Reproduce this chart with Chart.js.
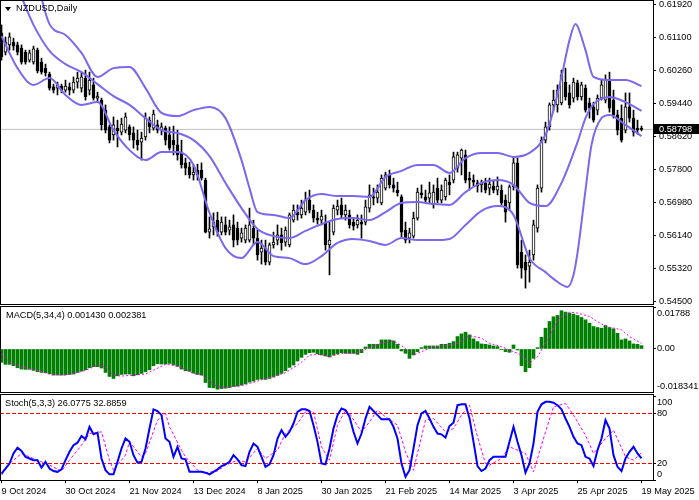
<!DOCTYPE html>
<html><head><meta charset="utf-8">
<script src="https://cdn.jsdelivr.net/npm/chart.js@4.4.1/dist/chart.umd.min.js"></script>
<style>
html,body{margin:0;padding:0;background:#fff;}
body{width:699px;height:500px;position:relative;overflow:hidden;font-family:'Liberation Sans',Arial,sans-serif;}
canvas{position:absolute;left:0;}
.frame{position:absolute;left:0;border:1px solid #000;pointer-events:none;}
.lbl{position:absolute;font-size:9.2px;color:#000;white-space:nowrap;line-height:11px;}
.tri{position:absolute;left:5px;top:7px;width:0;height:0;border-left:3px solid transparent;border-right:3px solid transparent;border-top:4px solid #000;}
</style></head><body>
<canvas id="cMain" width="699" height="304" style="top:0"></canvas>
<canvas id="cMacd" width="699" height="85" style="top:307px"></canvas>
<canvas id="cStoch" width="699" height="106" style="top:394px"></canvas>
<div class="frame" style="top:0;width:652px;height:303px"></div>
<div class="frame" style="top:306px;width:652px;height:85px"></div>
<div class="frame" style="top:394px;width:652px;height:85px"></div>
<div class="tri"></div>
<div class="lbl" style="left:16px;top:3px">NZDUSD,Daily</div>
<div class="lbl" style="left:6px;top:310px">MACD(5,34,4) 0.001430 0.002381</div>
<div class="lbl" style="left:5px;top:398px">Stoch(5,3,3) 26.0775 32.8859</div>
<script>
// ---------- data ----------
const dateLabels = ['9 Oct 2024','30 Oct 2024','21 Nov 2024','13 Dec 2024','8 Jan 2025','30 Jan 2025','21 Feb 2025','14 Mar 2025','3 Apr 2025','25 Apr 2025','19 May 2025'];
const barsPerLabel = 16;
const priceTicks = [0.61920,0.61100,0.60260,0.59440,0.58620,0.57800,0.56980,0.56140,0.55320,0.54500];
const lastPrice = 0.58798;
const macdTicks = [0.01788, 0, -0.018341];
const macdTickLabels = ['0.01788','0.00','-0.018341'];
const stochTicks = [100, 80, 20, 0];
const stochLevels = [20, 80];

const open = [.6121,.6073,.6091,.6098,.6091,.6083,.6073,.6053,.6048,.6078,
.6048,.6033,.6018,.5986,.5983,.5988,.5978,.5986,.5978,.5998,
.5983,.6008,.5978,.5991,.5958,.5953,.5928,.5886,.5866,.5883,
.5873,.5878,.5886,.5871,.5853,.5848,.5861,.5903,.5883,.5891,
.5878,.5883,.5866,.5853,.5841,.5821,.5796,.5786,.5766,.5778,
.5778,.5753,.5623,.5636,.5653,.5623,.5641,.5628,.5641,.5633,
.5608,.5603,.5603,.5633,.5608,.5573,.5583,.5548,.5591,.5603,
.5616,.5598,.5591,.5653,.5673,.5666,.5673,.5703,.5678,.5658,
.5653,.5648,.5591,.5623,.5678,.5691,.5666,.5666,.5648,.5641,
.5648,.5648,.5683,.5711,.5708,.5696,.5733,.5766,.5741,.5728,
.5711,.5628,.5608,.5613,.5658,.5721,.5711,.5708,.5691,.5733,
.5703,.5711,.5748,.5753,.5783,.5808,.5816,.5758,.5753,.5746,
.5741,.5746,.5733,.5738,.5728,.5728,.5703,.5696,.5736,.5796,
.5573,.5548,.5538,.5566,.5633,.5733,.5853,.5886,.5941,.5941,
.5946,.5998,.5971,.5958,.5996,.5961,.5983,.5946,.5936,.5928,
.5958,.5953,.6003,.5953,.5916,.5908,.5878,.5936,.5908,.5883,
.5881];
const high = [.6141,.6111,.6121,.6108,.6098,.6091,.6078,.6078,.6088,.6083,
.6058,.6043,.6023,.5993,.5998,.5993,.6003,.5996,.6011,.6023,
.6023,.6028,.6023,.6008,.5973,.5958,.5941,.5891,.5911,.5903,
.5908,.5921,.5891,.5886,.5878,.5873,.5921,.5911,.5928,.5903,
.5896,.5888,.5886,.5888,.5878,.5853,.5808,.5798,.5791,.5793,
.5796,.5758,.5661,.5671,.5673,.5661,.5661,.5653,.5666,.5648,
.5633,.5641,.5683,.5653,.5628,.5603,.5603,.5596,.5623,.5641,
.5633,.5636,.5671,.5691,.5691,.5703,.5723,.5728,.5691,.5673,
.5678,.5666,.5648,.5691,.5703,.5708,.5691,.5678,.5658,.5666,
.5666,.5703,.5741,.5733,.5741,.5766,.5773,.5778,.5758,.5748,
.5716,.5648,.5633,.5673,.5733,.5741,.5728,.5748,.5741,.5758,
.5741,.5758,.5766,.5823,.5823,.5831,.5828,.5773,.5766,.5753,
.5753,.5758,.5758,.5753,.5761,.5741,.5716,.5741,.5811,.5808,
.5603,.5566,.5578,.5653,.5741,.5861,.5898,.5946,.5978,.5991,
.6028,.6033,.5991,.6008,.6003,.5998,.5991,.5958,.5948,.5966,
.6003,.6016,.6023,.5978,.5928,.5941,.5971,.5971,.5928,.5903,
.5888];
const low = [.6053,.6066,.6078,.6078,.6066,.6043,.6043,.6048,.6043,.6021,
.6018,.6013,.5978,.5971,.5966,.5971,.5973,.5966,.5971,.5983,
.5973,.5953,.5966,.5953,.5948,.5878,.5871,.5846,.5853,.5836,
.5866,.5871,.5853,.5833,.5828,.5803,.5853,.5871,.5878,.5871,
.5866,.5841,.5828,.5816,.5803,.5783,.5766,.5758,.5753,.5753,
.5753,.5621,.5608,.5616,.5613,.5616,.5616,.5616,.5586,.5591,
.5598,.5596,.5598,.5591,.5553,.5543,.5541,.5541,.5583,.5591,
.5578,.5588,.5586,.5648,.5653,.5658,.5666,.5671,.5648,.5643,
.5641,.5578,.5516,.5616,.5666,.5658,.5653,.5633,.5628,.5633,
.5608,.5641,.5673,.5691,.5696,.5691,.5728,.5733,.5723,.5713,
.5608,.5596,.5596,.5608,.5653,.5708,.5696,.5696,.5683,.5696,
.5696,.5703,.5716,.5746,.5773,.5766,.5746,.5728,.5738,.5723,
.5723,.5721,.5716,.5721,.5716,.5691,.5648,.5678,.5728,.5533,
.5508,.5483,.5498,.5553,.5623,.5723,.5846,.5878,.5928,.5923,
.5941,.5953,.5933,.5948,.5953,.5953,.5923,.5908,.5898,.5916,
.5953,.5946,.5923,.5908,.5866,.5848,.5871,.5898,.5863,.5868,
.5876];
const close = [.6061,.6098,.6111,.6088,.6073,.6048,.6048,.6071,.6081,.6026,
.6023,.6021,.5983,.5978,.5991,.5978,.5988,.5978,.5998,.6008,
.6011,.5961,.6003,.5958,.5963,.5891,.5878,.5853,.5891,.5876,
.5893,.5911,.5866,.5853,.5841,.5858,.5908,.5886,.5918,.5878,
.5886,.5853,.5833,.5841,.5816,.5791,.5783,.5766,.5773,.5766,
.5758,.5623,.5631,.5648,.5623,.5648,.5623,.5636,.5603,.5603,
.5621,.5633,.5641,.5608,.5566,.5583,.5548,.5591,.5598,.5616,
.5596,.5628,.5666,.5678,.5666,.5683,.5703,.5678,.5658,.5653,
.5663,.5591,.5603,.5683,.5688,.5666,.5678,.5641,.5638,.5653,
.5643,.5686,.5716,.5708,.5723,.5758,.5766,.5741,.5733,.5721,
.5623,.5603,.5621,.5658,.5723,.5716,.5703,.5721,.5723,.5703,
.5728,.5753,.5741,.5811,.5816,.5828,.5753,.5753,.5748,.5738,
.5746,.5728,.5743,.5728,.5738,.5696,.5673,.5736,.5796,.5541,
.5533,.5528,.5548,.5641,.5733,.5853,.5886,.5941,.5953,.5978,
.6016,.5961,.5941,.5998,.5961,.5991,.5928,.5933,.5903,.5958,
.5991,.6003,.5933,.5916,.5878,.5853,.5936,.5908,.5873,.5878,
.58798];

// Bollinger bands: [bar, value]
const bbUpper = [[0,.6493],[4,.6433],[8,.6291],[12,.6143],[16,.6116],[20,.6071],[24,.6011],[28,.6033],[32,.6036],[36,.5983],
[40,.5921],[44,.5913],[48,.5928],[52,.5936],[56,.5908],[60,.5803],[62,.5733],[64,.5673],[68,.5666],[72,.5658],[76,.5703],
[80,.5718],[84,.5713],[88,.5713],[92,.5711],[96,.5761],[100,.5776],[104,.5791],[108,.5791],[112,.5771],[116,.5808],
[120,.5821],[124,.5821],[128,.5811],[132,.5821],[136,.5866],[138,.5928],[140,.6011],[142,.6103],[143.5,.6143],[144,.6138],
[146,.6078],[148,.6011],[152,.6003],[156,.6003],[160,.5988]];
const bbMiddle = [[0,.6303],[4,.6233],[8,.6141],[12,.6076],[16,.6043],[20,.6023],[24,.5993],[28,.5963],[32,.5941],[36,.5908],
[40,.5878],[44,.5871],[48,.5853],[52,.5813],[56,.5746],[60,.5683],[64,.5631],[68,.5613],[72,.5608],[76,.5626],
[80,.5643],[84,.5656],[88,.5658],[92,.5653],[96,.5673],[100,.5696],[104,.5698],[108,.5693],[112,.5691],[116,.5723],
[120,.5746],[124,.5753],[128,.5741],[132,.5696],[136,.5688],[140,.5746],[144,.5848],[146,.5908],[148,.5943],[152,.5961],
[156,.5948],[160,.5926]];
const bbLower = [[0,.6113],[4,.6033],[8,.5991],[12,.6008],[16,.5966],[20,.5941],[24,.5948],[28,.5878],[32,.5828],[36,.5803],
[40,.5823],[44,.5823],[48,.5791],[52,.5671],[56,.5583],[60,.5558],[64,.5598],[68,.5563],[72,.5558],[76,.5543],
[80,.5563],[84,.5596],[88,.5606],[92,.5601],[96,.5591],[100,.5608],[104,.5603],[108,.5603],[112,.5606],[116,.5641],
[120,.5676],[124,.5688],[128,.5666],[132,.5558],[136,.5523],[138,.5506],[141.5,.5486],[143,.5516],[144,.5571],[146,.5728],
[147.5,.5841],[150,.5908],[152,.5916],[156,.5891],[160,.5863]];

const macdMain = [-0.00571,-0.00657,-0.00657,-0.00714,-0.00800,-0.00857,-0.00871,-0.00871,-0.00914,-0.00971,
-0.01000,-0.01014,-0.01057,-0.01114,-0.01114,-0.01114,-0.01100,-0.01086,-0.01071,-0.01000,
-0.00943,-0.00886,-0.00800,-0.00757,-0.00757,-0.00814,-0.01000,-0.01171,-0.01257,-0.01143,
-0.01086,-0.01071,-0.01071,-0.01143,-0.01100,-0.01043,-0.00971,-0.00886,-0.00714,-0.00629,
-0.00643,-0.00643,-0.00614,-0.00686,-0.00743,-0.00857,-0.00929,-0.00957,-0.01029,-0.01086,
-0.01114,-0.01429,-0.01643,-0.01657,-0.01714,-0.01686,-0.01671,-0.01643,-0.01600,-0.01586,
-0.01543,-0.01486,-0.01414,-0.01371,-0.01300,-0.01286,-0.01300,-0.01257,-0.01200,-0.01129,
-0.01043,-0.00929,-0.00786,-0.00686,-0.00514,-0.00357,-0.00229,-0.00157,-0.00143,-0.00200,
-0.00257,-0.00300,-0.00343,-0.00257,-0.00214,-0.00157,-0.00186,-0.00186,-0.00186,-0.00229,
-0.00157,0.00086,0.00200,0.00200,0.00200,0.00386,0.00386,0.00386,0.00343,0.00200,
-0.00086,-0.00186,-0.00400,-0.00257,-0.00114,0.00057,0.00129,0.00129,0.00129,0.00129,
0.00200,0.00200,0.00243,0.00314,0.00529,0.00643,0.00714,0.00600,0.00429,0.00314,
0.00214,0.00200,0.00171,0.00129,0.00100,-0.00029,-0.00114,-0.00143,0.00171,-0.00043,
-0.00714,-0.00971,-0.00800,-0.00400,0.00057,0.00500,0.00886,0.01171,0.01371,0.01429,
0.01629,0.01571,0.01529,0.01486,0.01429,0.01343,0.01243,0.01100,0.00957,0.00914,
0.00886,0.01000,0.00914,0.00857,0.00671,0.00386,0.00429,0.00343,0.00214,0.00200,
0.001430];
const macdSignal = [[0,-0.00186],[2,-0.00571],[5,-0.00757],[8,-0.00871],[12,-0.01071],[16,-0.01114],[19,-0.01000],[21,-0.00914],
[24,-0.00686],[26,-0.00757],[28,-0.01114],[30,-0.01157],[33,-0.01114],[36,-0.01071],[38,-0.00900],[41,-0.00657],[43,-0.00686],
[46,-0.00871],[48,-0.01043],[50,-0.01086],[52,-0.01371],[54,-0.01600],[56,-0.01643],[59,-0.01586],[61,-0.01514],[64,-0.01371],
[66,-0.01257],[69,-0.01114],[71,-0.01014],[72,-0.00900],[74,-0.00686],[76,-0.00429],[77,-0.00257],[80,-0.00229],[82,-0.00329],
[85,-0.00186],[88,-0.00200],[90,-0.00086],[93,0.00129],[95,0.00243],[98,0.00343],[100,0.00143],[103,-0.00257],[105,-0.00114],
[108,0.00100],[111,0.00129],[114,0.00243],[117,0.00571],[120,0.00457],[122,0.00243],[125,0.00100],[127,-0.00043],[130,-0.00257],
[132,-0.00614],[134,-0.00329],[137,0.00529],[139,0.01243],[142,0.01571],[144,0.01529],[147,0.01386],[150,0.01057],[152,0.00929],
[155,0.00814],[157,0.00529],[160,0.002381]];

const stochMain = [8,14,20,32,39,35,28,26,24,24,
15,22,14,11,10,13,24,34,42,45,
53,49,64,55,57,26,12,7,7,22,
38,50,46,30,21,22,38,62,85,83,
78,50,46,28,40,26,25,10,10,10,
10,9,7,10,13,17,19,22,30,25,
18,17,34,44,40,28,16,19,30,50,
60,52,58,68,82,85,85,83,66,46,
20,19,38,62,78,86,84,76,58,44,
56,74,88,83,78,73,73,73,64,50,
20,4,12,38,66,80,83,74,64,56,
55,51,65,69,90,91,91,74,46,17,
11,14,24,28,28,28,28,46,64,46,
30,9,20,44,82,91,94,94,93,90,
85,74,64,52,44,42,28,26,17,36,
50,72,62,30,16,11,26,34,40,32,
26.0775];
const stochSignal = [[0,6],[2,20],[5,32],[7,28],[10,22],[12,18],[15,11],[17,24],[20,42],[22,56],[25,58],[27,24],[28,12],
[31,30],[32,46],[35,28],[36,32],[39,72],[41,80],[42,64],[45,36],[46,28],[49,12],[51,9],[54,11],[56,18],[59,24],[61,22],
[64,38],[66,26],[69,36],[71,56],[74,68],[76,82],[78,82],[80,40],[82,24],[84,66],[86,84],[87,80],[90,58],[92,70],[94,84],
[96,76],[99,66],[101,34],[103,12],[106,72],[108,74],[111,58],[113,62],[115,78],[117,90],[119,52],[121,20],[122,18],
[125,26],[127,40],[131,32],[133,10],[136,58],[138,88],[141,92],[143,78],[146,54],[148,32],[151,50],[153,60],[156,28],
[158,24],[160,32.8859]];

// ---------- chart setup ----------
const FONT = "'Liberation Sans', Arial, sans-serif";
const tickFont = {family: FONT, size: 9.2, lineHeight: 1.3};
const X_MIN = -0.375, X_MAX = close.length - 1 + 2.875;
const pts = arr => arr.map(([x, y]) => ({x, y}));

function noPad(s) { s.paddingTop = 0; s.paddingBottom = 0; s.paddingLeft = 0; s.paddingRight = 0; }
function hiddenX() {
  return {type: 'linear', min: X_MIN, max: X_MAX, display: false, offset: false, grid: {offset: false}};
}
function rightAxis(min, max, ticks, labelFn, pad) {
  return {
    type: 'linear', position: 'right', min, max,
    afterFit(s) { s.width = 46; noPad(s); },
    afterBuildTicks(s) { s.ticks = ticks.map(v => ({value: v})); },
    ticks: {color: '#000', font: tickFont, padding: pad, autoSkip: false, callback: labelFn},
    grid: {drawOnChartArea: false, drawTicks: true, tickLength: 3, color: '#000'},
    border: {display: false}
  };
}
const baseOpts = {
  responsive: false, animation: false, events: [],
  layout: {padding: 0, autoPadding: false},
  plugins: {legend: {display: false}, tooltip: {enabled: false}}
};

const priceBox = {
  id: 'priceBox',
  afterDraw(chart) {
    const s = chart.scales.y, ctx = chart.ctx;
    const py = s.getPixelForValue(lastPrice);
    ctx.save();
    ctx.fillStyle = '#000';
    ctx.fillRect(s.left + 1, Math.round(py) - 5, chart.width - s.left - 1, 10);
    ctx.fillStyle = '#fff';
    ctx.font = '9.2px ' + FONT;
    ctx.textBaseline = 'middle';
    ctx.fillText(lastPrice.toFixed(5), s.left + 6, py);
    ctx.restore();
  }
};

const BB = '#7b68ee';
const bandDs = d => ({type: 'line', data: pts(d), borderColor: BB, borderWidth: 2, pointRadius: 0,
  cubicInterpolationMode: 'monotone', fill: false, order: 0});

new Chart(document.getElementById('cMain'), {
  type: 'bar',
  data: {datasets: [
    bandDs(bbUpper), bandDs(bbMiddle), bandDs(bbLower),
    {type: 'bar', data: close.map((c, i) => ({x: i, y: [open[i], c]})),
     backgroundColor: close.map((c, i) => c >= open[i] ? '#fff' : '#000'),
     borderColor: '#000', borderWidth: 1, borderSkipped: false, barThickness: 3, grouped: false, minBarLength: 1, order: 1},
    {type: 'bar', data: low.map((l, i) => ({x: i, y: [l, high[i]]})),
     backgroundColor: '#000', borderWidth: 0, barThickness: 1, grouped: false, order: 2},
    {type: 'line', data: [{x: X_MIN, y: lastPrice}, {x: X_MAX, y: lastPrice}],
     borderColor: '#c0c0c0', borderWidth: 1, pointRadius: 0, order: 5}
  ]},
  options: Object.assign({}, baseOpts, {
    scales: {
      x: hiddenX(),
      y: rightAxis(0.54433, 0.62033, priceTicks, v => Number(v).toFixed(5), 3)
    }
  }),
  plugins: [priceBox]
});

new Chart(document.getElementById('cMacd'), {
  type: 'bar',
  data: {datasets: [
    {type: 'bar', data: macdMain.map((v, i) => ({x: i, y: v})), backgroundColor: '#008000',
     borderWidth: 0, barThickness: 3, grouped: false, order: 2},
    {type: 'line', data: pts(macdSignal), borderColor: '#ff00ff', borderWidth: 1, borderDash: [2, 2],
     pointRadius: 0, order: 1}
  ]},
  options: Object.assign({}, baseOpts, {
    scales: {
      x: hiddenX(),
      y: rightAxis(macdTicks[2], macdTicks[0], macdTicks, (v) => {
        const k = macdTicks.indexOf(v);
        const t = macdTickLabels[k];
        if (k === 0) return ['', t];
        if (k === macdTicks.length - 1) return [t, ''];
        return t;
      }, 1)
    }
  })
});

new Chart(document.getElementById('cStoch'), {
  type: 'line',
  data: {datasets: [
    {data: stochMain.map((v, i) => ({x: i, y: v})), borderColor: '#0000ff', borderWidth: 2, pointRadius: 0, order: 1},
    {data: pts(stochSignal), borderColor: '#ff00ff', borderWidth: 1, borderDash: [3, 2], pointRadius: 0, order: 2},
    ...stochLevels.map(l => ({data: [{x: X_MIN, y: l}, {x: X_MAX, y: l}], borderColor: '#ff0000',
      borderWidth: 1, borderDash: [4, 2], pointRadius: 0, order: 3}))
  ]},
  options: Object.assign({}, baseOpts, {
    layout: {padding: {top: 2.83, left: 0, right: 0, bottom: 0}, autoPadding: false},
    scales: {
      x: {
        type: 'linear', min: X_MIN, max: X_MAX, position: 'bottom', offset: false,
        afterFit(s) { s.height = 19.83; noPad(s); },
        afterBuildTicks(s) { s.ticks = dateLabels.map((_, k) => ({value: k * barsPerLabel})); },
        ticks: {autoSkip: false, maxRotation: 0, minRotation: 0, align: 'start', padding: 2,
          color: '#000', font: tickFont, callback: (v, i) => dateLabels[i]},
        grid: {drawOnChartArea: false, drawTicks: true, tickLength: 3, color: '#000'},
        border: {display: false}
      },
      y: rightAxis(0, 100, stochTicks, (v) => {
        if (v === 100) return ['', String(v)];
        if (v === 0) return [String(v), ''];
        return String(v);
      }, 1)
    }
  })
});
</script>
</body></html>
